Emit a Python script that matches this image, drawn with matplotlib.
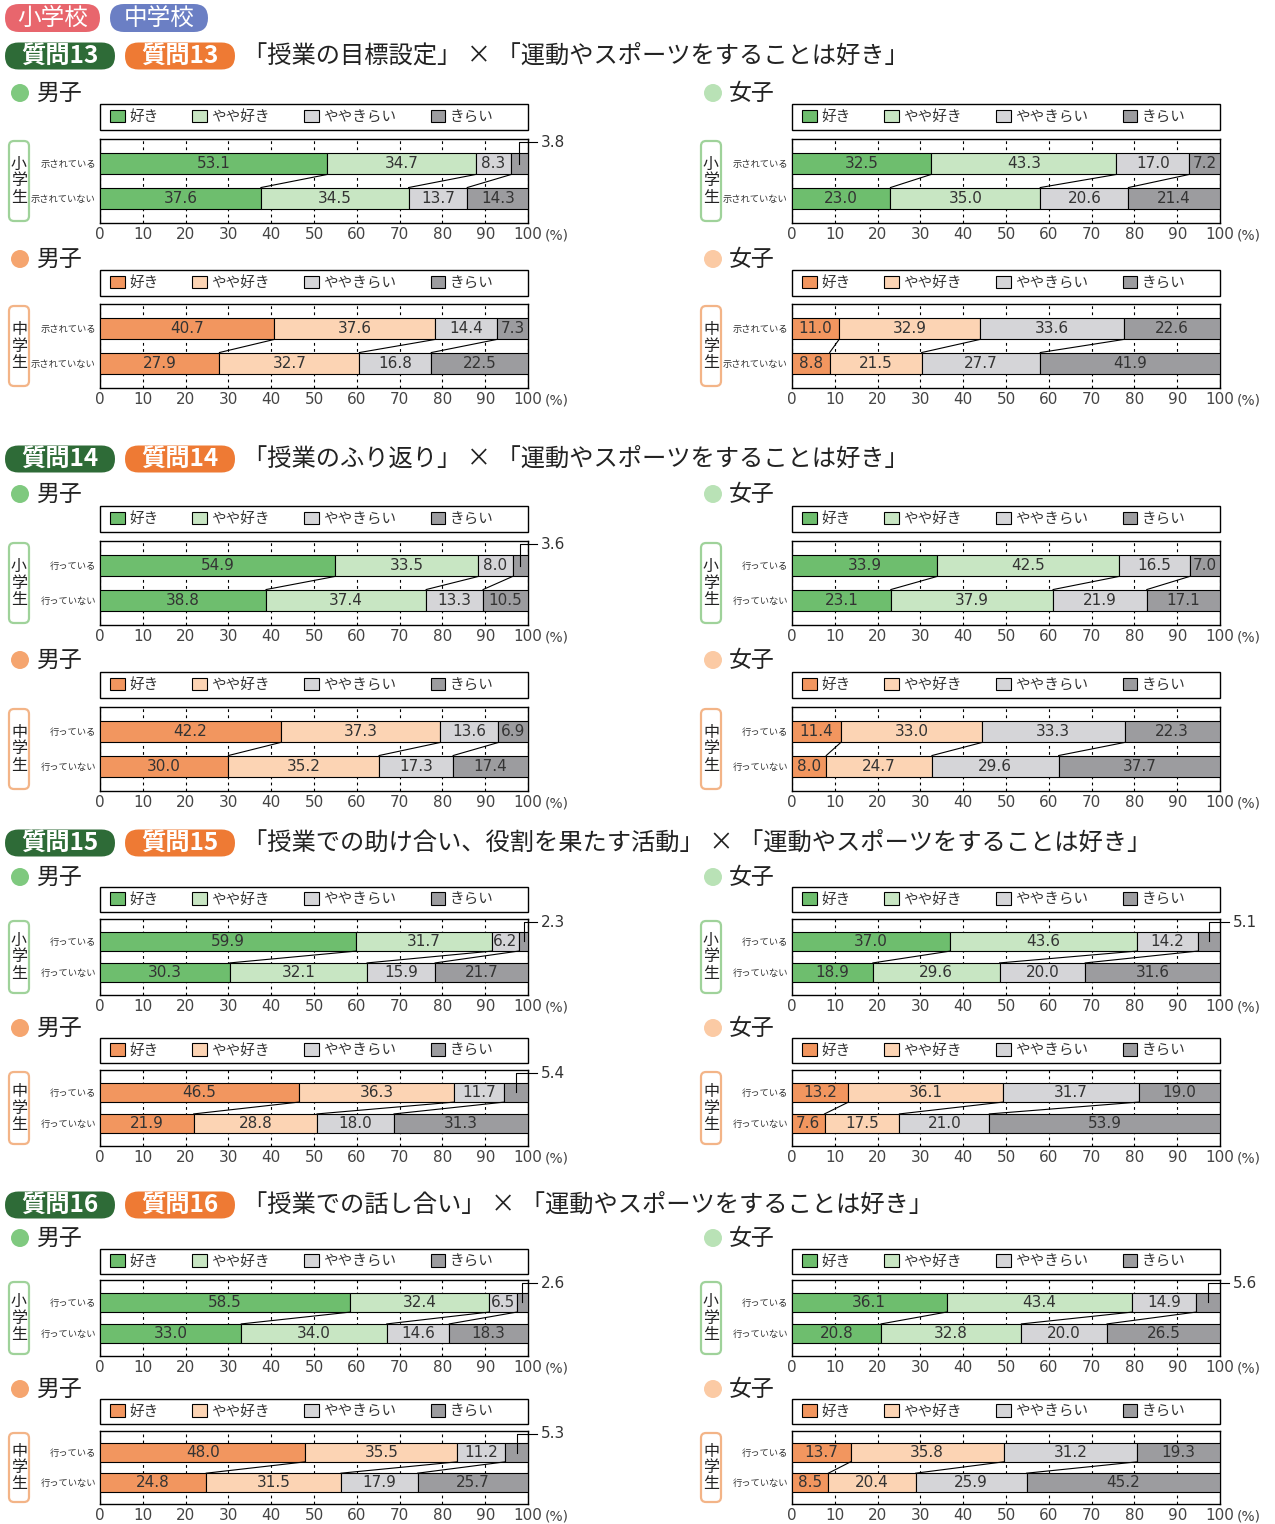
import matplotlib
matplotlib.use("Agg")
import matplotlib.pyplot as plt
from matplotlib.patches import FancyBboxPatch, Circle, Rectangle
from matplotlib.transforms import offset_copy
import numpy as np

plt.rcParams["font.family"] = ["Noto Sans CJK JP", "DejaVu Sans"]

# ---------------------------------------------------------------- data
categories = ["好き", "やや好き", "ややきらい", "きらい"]
school_badges = ["小学校", "中学校"]
grade_labels = ["小学生", "中学生"]
genders = ["男子", "女子"]
question_numbers = [13, 14, 15, 16]
question_titles = [
    "「授業の目標設定」 × 「運動やスポーツをすることは好き」",
    "「授業のふり返り」 × 「運動やスポーツをすることは好き」",
    "「授業での助け合い、役割を果たす活動」 × 「運動やスポーツをすることは好き」",
    "「授業での話し合い」 × 「運動やスポーツをすることは好き」",
]
rows_q13 = ["示されている", "示されていない"]
rows_done = ["行っている", "行っていない"]
x_ticks = [0, 10, 20, 30, 40, 50, 60, 70, 80, 90, 100]

# values in % : [好き, やや好き, ややきらい, きらい] for each answer row
q13_elem_boys = [[53.1, 34.7, 8.3, 3.8], [37.6, 34.5, 13.7, 14.3]]
q13_elem_girls = [[32.5, 43.3, 17.0, 7.2], [23.0, 35.0, 20.6, 21.4]]
q13_junior_boys = [[40.7, 37.6, 14.4, 7.3], [27.9, 32.7, 16.8, 22.5]]
q13_junior_girls = [[11.0, 32.9, 33.6, 22.6], [8.8, 21.5, 27.7, 41.9]]

q14_elem_boys = [[54.9, 33.5, 8.0, 3.6], [38.8, 37.4, 13.3, 10.5]]
q14_elem_girls = [[33.9, 42.5, 16.5, 7.0], [23.1, 37.9, 21.9, 17.1]]
q14_junior_boys = [[42.2, 37.3, 13.6, 6.9], [30.0, 35.2, 17.3, 17.4]]
q14_junior_girls = [[11.4, 33.0, 33.3, 22.3], [8.0, 24.7, 29.6, 37.7]]

q15_elem_boys = [[59.9, 31.7, 6.2, 2.3], [30.3, 32.1, 15.9, 21.7]]
q15_elem_girls = [[37.0, 43.6, 14.2, 5.1], [18.9, 29.6, 20.0, 31.6]]
q15_junior_boys = [[46.5, 36.3, 11.7, 5.4], [21.9, 28.8, 18.0, 31.3]]
q15_junior_girls = [[13.2, 36.1, 31.7, 19.0], [7.6, 17.5, 21.0, 53.9]]

q16_elem_boys = [[58.5, 32.4, 6.5, 2.6], [33.0, 34.0, 14.6, 18.3]]
q16_elem_girls = [[36.1, 43.4, 14.9, 5.6], [20.8, 32.8, 20.0, 26.5]]
q16_junior_boys = [[48.0, 35.5, 11.2, 5.3], [24.8, 31.5, 17.9, 25.7]]
q16_junior_girls = [[13.7, 35.8, 31.2, 19.3], [8.5, 20.4, 25.9, 45.2]]

sections = [
    (rows_q13, [[q13_elem_boys, q13_elem_girls], [q13_junior_boys, q13_junior_girls]]),
    (rows_done, [[q14_elem_boys, q14_elem_girls], [q14_junior_boys, q14_junior_girls]]),
    (rows_done, [[q15_elem_boys, q15_elem_girls], [q15_junior_boys, q15_junior_girls]]),
    (rows_done, [[q16_elem_boys, q16_elem_girls], [q16_junior_boys, q16_junior_girls]]),
]

# ---------------------------------------------------------------- styling
W, H = 1275, 1524
fig = plt.figure(figsize=(W / 100, H / 100), dpi=100)
fig.patch.set_facecolor("white")

grade_colors = [
    ["#6ebe6e", "#c8e6c3", "#d5d5d8", "#9c9c9f"],
    ["#f2965f", "#fcd4b4", "#d5d5d8", "#9c9c9f"],
]
grade_edge = ["#9fd29a", "#f3b487"]
dot_colors = [["#7fc97f", "#b9e2b6"], ["#f5a56f", "#fbcaa4"]]
NUM_FONT = "DejaVu Sans"

# header y, then per grade: (label y, legend top, legend bottom, frame top, frame bottom)
layout = [
    (56, [(93, 104, 130, 139, 223), (259, 270, 296, 304, 388)]),
    (459, [(494, 506, 532, 541, 625), (660, 672, 698, 707, 791)]),
    (843, [(877, 887, 912, 919, 995), (1028, 1038, 1063, 1070, 1146)]),
    (1205, [(1238, 1249, 1274, 1280, 1356), (1389, 1399, 1424, 1431, 1504)]),
]
columns = [
    dict(x0=100, x1=528, dot=20, text=36, box=(9, 29)),
    dict(x0=792, x1=1220, dot=713, text=729, box=(701, 721)),
]


def inch(x, y):
    return x / 100, (H - y) / 100


def badge(x0, x1, yc, h, color, text, size, weight="normal"):
    bx, by = inch(x0, yc + h / 2)
    fig.patches.append(FancyBboxPatch(
        (bx, by), (x1 - x0) / 100, h / 100,
        boxstyle=f"round,pad=0,rounding_size={h / 200}",
        transform=fig.dpi_scale_trans, fc=color, ec="none"))
    fig.text((x0 + x1) / 2 / W, 1 - yc / H, text, color="white", fontsize=size,
             fontweight=weight, ha="center", va="center")


def draw_panel(col, grade, geom, values, row_labels, gender):
    label_y, lg_top, lg_bot, fr_top, fr_bot = geom
    x0, x1 = col["x0"], col["x1"]
    colors = grade_colors[grade]

    # gender heading with coloured dot
    cx, cy = inch(col["dot"], label_y)
    fig.patches.append(Circle((cx, cy), 0.09, transform=fig.dpi_scale_trans,
                              fc=dot_colors[grade][gender], ec="none"))
    fig.text(col["text"] / W, 1 - label_y / H, genders[gender], fontsize=16.5,
             ha="left", va="center", color="#222")

    # grade side box
    bx0, bx1 = col["box"]
    px, py = inch(bx0, fr_bot - 2)
    fig.patches.append(FancyBboxPatch(
        (px, py), (bx1 - bx0) / 100, (fr_bot - fr_top - 4) / 100,
        boxstyle="round,pad=0,rounding_size=0.05", transform=fig.dpi_scale_trans,
        fc="none", ec=grade_edge[grade], lw=1.6))
    fig.text((bx0 + bx1) / 2 / W, 1 - (fr_top + fr_bot) / 2 / H,
             "\n".join(grade_labels[grade]), fontsize=11.5, ha="center",
             va="center", linespacing=0.95, color="#222")

    ax = fig.add_axes([x0 / W, 1 - fr_bot / H, (x1 - x0) / W, (fr_bot - fr_top) / H])
    ax.set_xlim(0, 100)
    ax.set_ylim(1.72, -0.72)
    vals = np.array(values, dtype=float)
    ypos = np.arange(len(vals))
    bar_h = 0.62
    left = np.zeros(len(vals))
    handles = []
    for j, cat in enumerate(categories):
        bars = ax.barh(ypos, vals[:, j], left=left, height=bar_h, color=colors[j],
                       edgecolor="black", linewidth=0.8, label=cat, zorder=3)
        handles.append(bars)
        for i in range(len(vals)):
            v = vals[i, j]
            mid = left[i] + v / 2
            if j == len(categories) - 1 and v < 6:
                ax.plot([mid, mid, 102], [ypos[i], -0.62, -0.62], color="black",
                        lw=0.8, clip_on=False, zorder=5)
                ax.text(103, -0.62, f"{v:.1f}", ha="left", va="center", fontsize=11,
                        family=NUM_FONT, color="#333", clip_on=False)
            else:
                ax.text(mid, ypos[i], f"{v:.1f}", ha="center", va="center",
                        fontsize=11, family=NUM_FONT, color="#333", zorder=4)
        left = left + vals[:, j]

    # connectors between the category boundaries of the two rows
    cum = np.cumsum(vals, axis=1)
    for k in range(len(categories) - 1):
        ax.plot([cum[0, k], cum[1, k]], [ypos[0] + bar_h / 2, ypos[1] - bar_h / 2],
                color="black", lw=0.8, zorder=4)

    ax.set_xticks(x_ticks)
    ax.set_xticklabels([str(t) for t in x_ticks], family=NUM_FONT)
    ax.grid(axis="x", color="black", linestyle=(0, (2.5, 3)), linewidth=0.8)
    ax.set_axisbelow(True)
    ax.tick_params(axis="x", length=0, labelsize=11, labelcolor="#444", pad=3)
    ax.set_yticks(ypos)
    ax.set_yticklabels(row_labels, fontsize=6.7, color="#333")
    ax.tick_params(axis="y", length=0, pad=3)
    for s in ax.spines.values():
        s.set_linewidth(1.0)
        s.set_color("black")
    ax.text(1.04, 0, "(%)", fontsize=10, color="#444", ha="left", va="top",
            family=NUM_FONT,
            transform=offset_copy(ax.transAxes, fig=fig, x=0, y=-4.2, units="points"))

    # legend: outlined box across the plot width, entries packed from the left
    lx, ly = inch(x0, lg_bot)
    fig.patches.append(Rectangle((lx, ly), (x1 - x0) / 100, (lg_bot - lg_top) / 100,
                                 transform=fig.dpi_scale_trans, fc="none",
                                 ec="black", lw=1.0))
    leg = ax.legend(handles=handles, labels=categories, loc="center left",
                    bbox_to_anchor=((x0 + 10) / W, 1 - (lg_top + lg_bot) / 2 / H),
                    bbox_transform=fig.transFigure, ncol=4, frameon=False,
                    fontsize=10.5, handlelength=1.0, handleheight=0.95,
                    handletextpad=0.3, borderpad=0, borderaxespad=0,
                    columnspacing=2.35)
    for t in leg.get_texts():
        t.set_color("#333")


# ---------------------------------------------------------------- header
badge(5, 100, 18, 28, "#e8666d", school_badges[0], 17)
badge(110, 208, 18, 28, "#6b7fc4", school_badges[1], 17)

for s, (row_labels, grades) in enumerate(sections):
    head_y, grade_geoms = layout[s]
    q = question_numbers[s]
    badge(5, 115, head_y, 27, "#2e6b37", f"質問{q}", 17.5, "bold")
    badge(125, 235, head_y, 27, "#ee7a34", f"質問{q}", 17.5, "bold")
    fig.text(243 / W, 1 - head_y / H, question_titles[s], fontsize=17.5,
             ha="left", va="center", color="#222")
    for g in range(2):
        for c in range(2):
            draw_panel(columns[c], g, grade_geoms[g], grades[g][c], row_labels, c)

fig.savefig("out.png", dpi=100, facecolor="white")
